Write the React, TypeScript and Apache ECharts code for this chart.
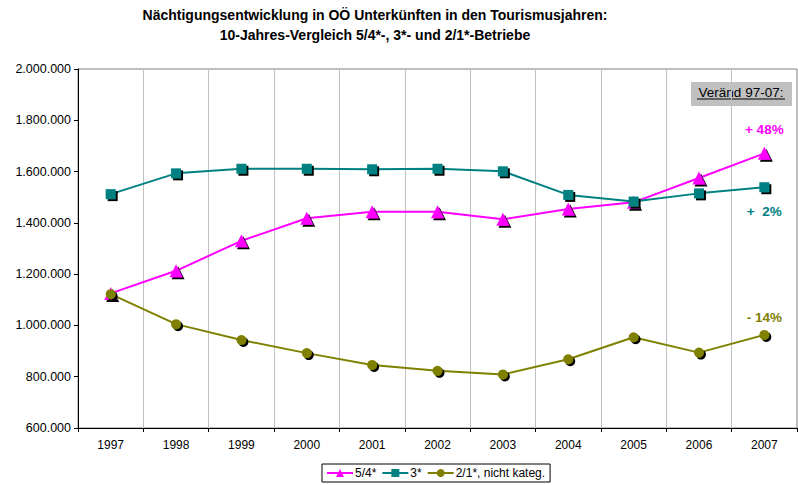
import React, { useEffect, useRef } from "react";
import * as echarts from "echarts";

const years = ["1997", "1998", "1999", "2000", "2001", "2002", "2003", "2004", "2005", "2006", "2007"];
const series54 = [1125000, 1213000, 1330000, 1418000, 1443000, 1443000, 1414000, 1454000, 1480000, 1575000, 1671000];
const series3 = [1512000, 1593000, 1611000, 1611000, 1609000, 1611000, 1601000, 1509000, 1483000, 1515000, 1539000];
const series21 = [1122000, 1005000, 943000, 892000, 846000, 823000, 809000, 868000, 954000, 894000, 963000];
const seriesNames = ["5/4*", "3*", "2/1*, nicht kateg."];
const changeLabels = ["+ 48%", "+  2%", "- 14%"];
const titleLines = [
  "Nächtigungsentwicklung in OÖ Unterkünften in den Tourismusjahren:",
  "10-Jahres-Vergleich 5/4*-, 3*- und 2/1*-Betriebe",
];
const boxLabel = "Veränd 97-07:";

const FONT = "'Liberation Sans', Arial, sans-serif";

function fmt(v: number): string {
  return String(Math.round(v)).replace(/\B(?=(\d{3})+(?!\d))/g, ".");
}

export default function App() {
  const ref = useRef<HTMLDivElement>(null);
  useEffect(() => {
    if (!ref.current) return;
    const chart = echarts.init(ref.current, undefined, { renderer: "svg" });
    const shadow = { shadowColor: "#000", shadowOffsetX: 2, shadowOffsetY: 2, shadowBlur: 0 };
    const mk = (
      name: string,
      values: number[],
      color: string,
      symbol: string,
      size: number,
      label: string,
      pos: string,
      dist: number
    ) => ({
      name,
      type: "line",
      symbol,
      symbolSize: size,
      lineStyle: { color, width: 2 },
      itemStyle: { color, ...shadow },
      data: values.map((v, i) =>
        i === values.length - 1
          ? {
              value: v,
              label: {
                show: true,
                formatter: label,
                position: pos,
                distance: dist,
                color,
                fontWeight: "bold",
                fontSize: 13.5,
                fontFamily: FONT,
              },
            }
          : v
      ),
    });
    chart.setOption({
      animation: false,
      textStyle: { fontFamily: FONT },
      grid: { left: 78, right: 1, top: 69, bottom: 57, show: true, borderColor: "#808080", borderWidth: 1 },
      xAxis: {
        type: "category",
        data: years,
        boundaryGap: true,
        axisLine: { lineStyle: { color: "#000", width: 1 } },
        axisTick: { show: true, length: 4, inside: false, lineStyle: { color: "#000" } },
        axisLabel: { color: "#000", fontSize: 12, margin: 11, fontFamily: FONT },
        splitLine: { show: true, lineStyle: { color: "#c0c0c0", width: 1 } },
      },
      yAxis: {
        type: "value",
        min: 600000,
        max: 2000000,
        interval: 200000,
        axisLine: { show: true, lineStyle: { color: "#000", width: 1 } },
        axisTick: { show: true, length: 4, lineStyle: { color: "#000" } },
        axisLabel: { color: "#000", fontSize: 12.5, margin: 7, fontFamily: FONT, formatter: (v: number) => fmt(v) },
        splitLine: { show: false },
      },
      legend: {
        left: 322,
        top: 464,
        orient: "horizontal",
        borderColor: "#000",
        borderWidth: 1,
        padding: [3, 5, 3, 4],
        itemGap: 5,
        itemWidth: 26,
        itemHeight: 10,
        textStyle: { color: "#000", fontSize: 12, fontFamily: FONT, padding: [0, 0, 0, -3] },
        data: seriesNames,
      },
      graphic: [
        {
          type: "text",
          x: 375,
          y: 8,
          style: { text: titleLines[0], font: `bold 14px ${FONT}`, fill: "#000", textAlign: "center" },
        },
        {
          type: "text",
          x: 375,
          y: 28,
          style: { text: titleLines[1], font: `bold 14px ${FONT}`, fill: "#000", textAlign: "center" },
        },
        {
          type: "rect",
          shape: { x: 691, y: 82, width: 101, height: 24 },
          style: { fill: "#c0c0c0" },
        },
        {
          type: "text",
          x: 741,
          y: 85,
          style: { text: boxLabel, font: `13.5px ${FONT}`, fill: "#000", textAlign: "center" },
        },
        {
          type: "line",
          shape: { x1: 697, y1: 99, x2: 785, y2: 99 },
          style: { stroke: "#000", lineWidth: 1 },
        },
      ],
      series: [
        mk(seriesNames[0], series54, "#ff00ff", "triangle", 13, changeLabels[0], "top", 10),
        mk(seriesNames[1], series3, "#008080", "rect", 10, changeLabels[1], "bottom", 12),
        mk(seriesNames[2], series21, "#808000", "circle", 10, changeLabels[2], "top", 5),
      ],
    });
    return () => chart.dispose();
  }, []);
  return <div ref={ref} style={{ width: 798, height: 485, position: "absolute", left: 0, top: 0 }} />;
}
